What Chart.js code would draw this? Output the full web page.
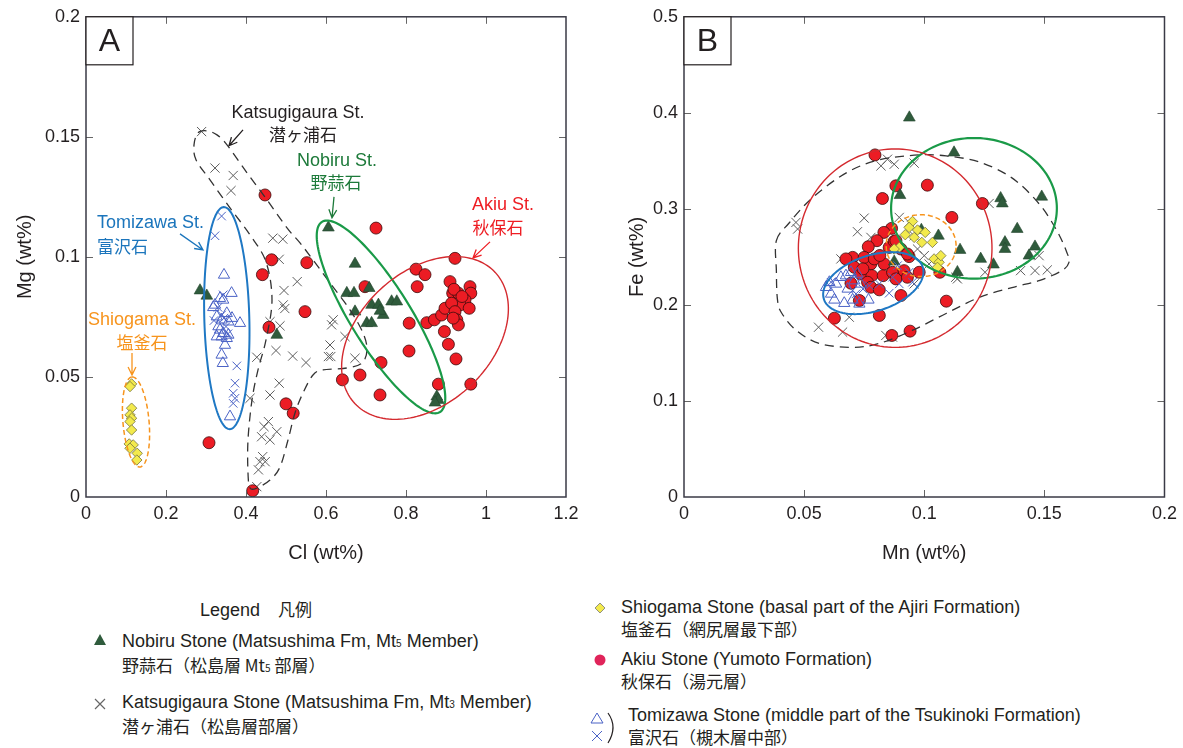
<!DOCTYPE html>
<html>
<head>
<meta charset="utf-8">
<title>Mg-Cl and Fe-Mn</title>
<script src="https://cdn.jsdelivr.net/npm/chart.js@4.4.0/dist/chart.umd.min.js"></script>
<style>
body { margin: 0; background: #fff; font-family: "Liberation Sans", Arial, sans-serif; }
#wrap { position: relative; width: 1183px; height: 748px; overflow: hidden; background: #fff; }
canvas { position: absolute; top: 0; }
#chartA { left: 0; }
#chartB { left: 598px; }
.lg { position: absolute; font-size: 18px; line-height: 21px; color: #231f20; white-space: nowrap; }
.jp { font-family: "Noto Sans CJK JP", sans-serif; font-size: 17px; }
.mk { position: absolute; }
small { font-size: 10px; }
</style>
</head>
<body>
<div id="wrap">
  <canvas id="chartA" width="590" height="570"></canvas>
  <canvas id="chartB" width="585" height="570"></canvas>

  <div class="lg" style="left:200px;top:598px;">Legend　<span class="jp">凡例</span></div>

  <svg class="mk" style="left:93px;top:633px;" width="14" height="14"><polygon points="7,1 13,12 1,12" fill="#2f5b3c"/></svg>
  <div class="lg" style="left:122px;top:631px;">Nobiru Stone (Matsushima Fm, Mt<small>5</small> Member)<br><span class="jp">野蒜石（松島層 Mt<small>5</small> 部層）</span></div>

  <svg class="mk" style="left:93px;top:697px;" width="14" height="14"><path d="M2,2 L12,12 M12,2 L2,12" stroke="#666" stroke-width="1.2"/></svg>
  <div class="lg" style="left:122px;top:692px;">Katsugigaura Stone (Matsushima Fm, Mt<small>3</small> Member)<br><span class="jp">潜ヶ浦石（松島層部層）</span></div>

  <svg class="mk" style="left:593px;top:601px;" width="14" height="14"><polygon points="7,2 12,7 7,12 2,7" fill="#f3ea4c" stroke="#777" stroke-width="0.8"/></svg>
  <div class="lg" style="left:621px;top:597px;">Shiogama Stone (basal part of the Ajiri Formation)<br><span class="jp">塩釜石（網尻層最下部）</span></div>

  <svg class="mk" style="left:593px;top:653px;" width="14" height="14"><circle cx="7" cy="7" r="5.5" fill="#e0245a"/></svg>
  <div class="lg" style="left:621px;top:649px;">Akiu Stone (Yumoto Formation)<br><span class="jp">秋保石（湯元層）</span></div>

  <svg class="mk" style="left:589px;top:710px;" width="30" height="36">
    <polygon points="8,3 14,13 2,13" fill="none" stroke="#4b63c6" stroke-width="1"/>
    <path d="M3,21 L13,31 M13,21 L3,31" stroke="#4b63c6" stroke-width="1"/>
    <path d="M19,3 Q29,17 19,33" fill="none" stroke="#231f20" stroke-width="1.2"/>
  </svg>
  <div class="lg" style="left:628px;top:705px;">Tomizawa Stone (middle part of the Tsukinoki Formation)<br><span class="jp">富沢石（槻木層中部）</span></div>
</div>

<script>
// ---------- panel A : Mg vs Cl ----------
const clTicks = [0, 0.2, 0.4, 0.6, 0.8, 1, 1.2];
const clTickLabels = ['0', '0.2', '0.4', '0.6', '0.8', '1', '1.2'];
const mgTicks = [0, 0.05, 0.1, 0.15, 0.2];
const mgTickLabels = ['0', '0.05', '0.1', '0.15', '0.2'];

const clNobiru = [0.606,0.285,0.302,0.477,0.6725,0.652,0.67,0.708,0.6725,0.714,0.731,0.743,0.702,0.714,0.764,0.777,0.877,0.881,0.8725,0.735];
const mgNobiru = [0.1122,0.086,0.0838,0.0675,0.0971,0.0849,0.0849,0.087,0.0772,0.080,0.080,0.0758,0.0724,0.0724,0.0814,0.0814,0.0418,0.0404,0.0393,0.0775];

const clKatsu = [0.289,0.3225,0.368,0.3625,0.467,0.492,0.483,0.528,0.495,0.493,0.497,0.46,0.485,0.618,0.614,0.6475,0.61,0.606,0.612,0.6725,0.427,0.475,0.5167,0.55,0.483,0.46,0.41,0.456,0.445,0.477,0.439,0.46,0.4417,0.435,0.448,0.431,0.427];
const mgKatsu = [0.1522,0.137,0.1339,0.1276,0.1078,0.1074,0.099,0.0897,0.086,0.080,0.0785,0.073,0.0713,0.0738,0.0717,0.0668,0.0633,0.0585,0.0585,0.0578,0.0582,0.061,0.0587,0.056,0.0474,0.0425,0.0411,0.0314,0.0293,0.0272,0.0251,0.0238,0.0168,0.0147,0.0147,0.0113,0.0043];

const clShiogama = [0.114,0.110,0.114,0.110,0.114,0.110,0.114,0.108,0.118,0.110,0.128,0.127];
const mgShiogama = [0.0471,0.0460,0.0370,0.0342,0.0328,0.0314,0.0279,0.0221,0.0217,0.0203,0.0182,0.0154];

const clAkiu = [0.4475,0.725,0.9225,0.464,0.552,0.441,0.5475,0.4575,0.6975,0.825,0.8475,0.828,0.808,0.852,0.871,0.889,0.8975,0.91,0.9167,0.931,0.96,0.962,0.9475,0.935,0.914,0.958,0.9225,0.927,0.931,0.918,0.896,0.906,0.925,0.8075,0.7375,0.685,0.641,0.735,0.881,0.962,0.5,0.518,0.3075,0.4167,0.92,0.94];
const mgAkiu = [0.1258,0.112,0.0994,0.0988,0.0976,0.0926,0.0772,0.0707,0.0876,0.0949,0.0926,0.0876,0.0724,0.0726,0.0738,0.0758,0.0786,0.0897,0.0849,0.0849,0.0876,0.0849,0.0821,0.080,0.0807,0.0786,0.0772,0.0738,0.0717,0.0745,0.0689,0.0636,0.0575,0.0608,0.056,0.0508,0.0488,0.0425,0.047,0.047,0.0388,0.0349,0.0226,0.0026,0.0865,0.0835];

const clTomiTri = [0.345,0.364,0.335,0.343,0.3225,0.352,0.385,0.327,0.339,0.356,0.331,0.335,0.343,0.356,0.327,0.339,0.352,0.3475,0.339,0.342,0.36,0.318,0.365];
const mgTomiTri = [0.0925,0.0849,0.0828,0.0821,0.080,0.0765,0.0724,0.0751,0.0738,0.0730,0.0710,0.0696,0.0682,0.0675,0.0668,0.0668,0.0661,0.0633,0.0592,0.0557,0.0335,0.0790,0.0745];
const clTomiX = [0.339,0.3225,0.343,0.339,0.33,0.35,0.32,0.345,0.355,0.377,0.3725,0.368,0.3725,0.368];
const mgTomiX = [0.117,0.1088,0.0842,0.0758,0.079,0.071,0.0735,0.0745,0.068,0.0546,0.0474,0.0432,0.0411,0.039];

// dashed Katsugigaura field, panel A (Cl, Mg)
const katsuFieldCl = [0.28,0.3025,0.3275,0.3525,0.4025,0.4525,0.5025,0.535,0.5675,0.6175,0.66,0.6925,0.7025,0.69,0.6525,0.5925,0.5675,0.5425,0.5225,0.505,0.485,0.46,0.4275,0.41,0.405,0.405,0.415,0.43,0.45,0.465,0.45,0.41,0.36,0.31,0.275,0.27];
const katsuFieldMg = [0.15167,0.1525,0.15083,0.14667,0.135,0.12375,0.11208,0.10583,0.09875,0.0875,0.07792,0.06833,0.06125,0.05583,0.05375,0.05292,0.05083,0.04333,0.035,0.02375,0.0125,0.00708,0.00375,0.00375,0.01,0.02375,0.04042,0.05292,0.06542,0.08208,0.09792,0.10917,0.12042,0.13208,0.14042,0.14667];

// ---------- panel B : Fe vs Mn ----------
const mnTicks = [0, 0.05, 0.1, 0.15, 0.2];
const mnTickLabels = ['0', '0.05', '0.1', '0.15', '0.2'];
const feTicks = [0, 0.1, 0.2, 0.3, 0.4, 0.5];
const feTickLabels = ['0', '0.1', '0.2', '0.3', '0.4', '0.5'];

const mnNobiru = [0.0938,0.1124,0.1489,0.1318,0.1325,0.0899,0.1387,0.0988,0.1059,0.1149,0.1336,0.1336,0.1461,0.1436,0.1235,0.1288,0.1138,0.0875];
const feNobiru = [0.395,0.3586,0.3126,0.311,0.3056,0.3143,0.279,0.278,0.272,0.2572,0.2651,0.2582,0.2606,0.2513,0.2479,0.242,0.234,0.245];

const mnKatsu = [0.082,0.0847,0.0875,0.0958,0.127,0.075,0.0722,0.0466,0.0473,0.0896,0.0937,0.0778,0.0972,0.0653,0.0958,0.1253,0.1138,0.1401,0.1461,0.1512,0.1478,0.056,0.066,0.0688,0.084,0.0868,0.1,0.0958,0.0868,0.1131,0.102];
const feKatsu = [0.3448,0.3517,0.3465,0.3476,0.3056,0.2904,0.2762,0.2859,0.279,0.2911,0.2859,0.2703,0.2582,0.2479,0.2219,0.234,0.2271,0.2357,0.2357,0.2364,0.2513,0.1768,0.1717,0.1872,0.1682,0.1665,0.2513,0.272,0.2357,0.2288,0.2427];

const mnShiogama = [0.0951,0.0972,0.0921,0.0958,0.099,0.1034,0.1041,0.1062,0.1069,0.0896,0.0875,0.1055,0.0937,0.1004];
const feShiogama = [0.2869,0.278,0.2731,0.2703,0.2651,0.2651,0.2479,0.2444,0.2513,0.2599,0.2582,0.2391,0.2807,0.2755];

const mnAkiu = [0.0795,0.0882,0.1013,0.0826,0.1242,0.1115,0.0864,0.0832,0.0803,0.0854,0.0875,0.0767,0.0903,0.0702,0.0674,0.0937,0.0979,0.1065,0.0709,0.0736,0.0778,0.0782,0.0829,0.0833,0.0868,0.0882,0.0916,0.093,0.0764,0.0695,0.0778,0.0813,0.0903,0.073,0.0626,0.0813,0.0865,0.0941,0.1092,0.075,0.0792,0.0882,0.093,0.0815,0.0745];
const feAkiu = [0.3562,0.324,0.3247,0.3108,0.3056,0.2911,0.2797,0.2755,0.2669,0.2599,0.2662,0.2606,0.2582,0.2495,0.2479,0.2503,0.234,0.234,0.2392,0.2323,0.2427,0.2305,0.2305,0.2427,0.234,0.2271,0.2357,0.2288,0.2236,0.2226,0.2184,0.2157,0.2098,0.2046,0.1862,0.189,0.1682,0.1727,0.2039,0.2495,0.2479,0.2669,0.253,0.2515,0.2375];

const mnTomiTri = [0.0605,0.0591,0.0633,0.0612,0.0626,0.0667,0.0702,0.073,0.0768,0.0674,0.0709,0.0736,0.0695,0.0722,0.0653,0.0681];
const feTomiTri = [0.2236,0.2184,0.2219,0.2115,0.2053,0.2018,0.2053,0.2011,0.2053,0.2305,0.2253,0.2219,0.234,0.2323,0.2288,0.2167];
const mnTomiX = [0.0868,0.0896,0.0854,0.0813,0.0771,0.0745,0.0702,0.0612,0.0716,0.0951,0.0937,0.0889];
const feTomiX = [0.2288,0.2219,0.2122,0.2219,0.2201,0.2165,0.215,0.2236,0.2115,0.2236,0.234,0.2409];

// dashed Katsugigaura field, panel B (Mn, Fe)
const katsuFieldMn = [0.03845,0.04385,0.0534,0.06754,0.08126,0.09788,0.1091,0.1228,0.1365,0.1478,0.1552,0.1594,0.1602,0.1573,0.1478,0.1365,0.1228,0.1091,0.09497,0.08126,0.07003,0.05632,0.04676,0.04052,0.03886,0.03845];
const katsuFieldFe = [0.2669,0.2856,0.3115,0.3375,0.351,0.3562,0.3551,0.3489,0.3323,0.3053,0.2773,0.2544,0.244,0.2357,0.2253,0.2181,0.2077,0.1911,0.1734,0.1599,0.1558,0.1599,0.1734,0.1921,0.2066,0.2357];

const INK = '#231f20';
const C_GREEN = '#1a9a48', C_RED = '#d42a2f', C_BLUE = '#1f78c4', C_ORANGE = '#f7941d';
Chart.defaults.font.family = '"Liberation Sans", Arial, sans-serif';

function pts(xs, ys) {
    return xs.map((x, i) => ({ x: x, y: ys[i] }));
}

function makeDatasets(s) {
    return [
        { label: 'Tomizawa x', data: pts(s.tomiX[0], s.tomiX[1]), pointStyle: 'crossRot', radius: 6, borderColor: '#4b63c6', borderWidth: 1 },
        { label: 'Tomizawa tri', data: pts(s.tomiTri[0], s.tomiTri[1]), pointStyle: 'triangle', radius: 6.5, backgroundColor: 'rgba(255,255,255,0)', borderColor: '#4b63c6', borderWidth: 1 },
        { label: 'Shiogama', data: pts(s.shio[0], s.shio[1]), pointStyle: 'rectRot', radius: 5.2, backgroundColor: '#f3ea4c', borderColor: '#75733e', borderWidth: 0.8 },
        { label: 'Nobiru', data: pts(s.nobiru[0], s.nobiru[1]), pointStyle: 'triangle', radius: 6.8, backgroundColor: '#2f5b3c', borderColor: '#24452e', borderWidth: 0.6 },
        { label: 'Akiu', data: pts(s.akiu[0], s.akiu[1]), pointStyle: 'circle', radius: 6, backgroundColor: '#ec1c24', borderColor: '#3b0b0b', borderWidth: 0.8 },
        { label: 'Katsugigaura', data: pts(s.katsu[0], s.katsu[1]), pointStyle: 'crossRot', radius: 6.5, borderColor: '#5c5c5c', borderWidth: 1 }
    ];
}

// ellipse given in data units: centre + two conjugate semi-axes
function ellipsePath(ctx, xs, ys, e) {
    ctx.beginPath();
    for (let i = 0; i <= 160; i++) {
        const t = i / 160 * Math.PI * 2;
        const dx = e.c[0] + e.u[0] * Math.cos(t) + e.v[0] * Math.sin(t);
        const dy = e.c[1] + e.u[1] * Math.cos(t) + e.v[1] * Math.sin(t);
        const px = xs.getPixelForValue(dx), py = ys.getPixelForValue(dy);
        if (i === 0) ctx.moveTo(px, py); else ctx.lineTo(px, py);
    }
    ctx.closePath();
}

function smoothLoop(ctx, p) {
    const n = p.length;
    ctx.beginPath();
    ctx.moveTo(p[0][0], p[0][1]);
    for (let i = 0; i < n; i++) {
        const p0 = p[(i - 1 + n) % n], p1 = p[i], p2 = p[(i + 1) % n], p3 = p[(i + 2) % n];
        ctx.bezierCurveTo(p1[0] + (p2[0] - p0[0]) / 6, p1[1] + (p2[1] - p0[1]) / 6,
                          p2[0] - (p3[0] - p1[0]) / 6, p2[1] - (p3[1] - p1[1]) / 6, p2[0], p2[1]);
    }
    ctx.closePath();
}

const overlayPlugin = {
    id: 'overlay',
    afterDatasetsDraw(chart) {
        const ov = chart.options.plugins.overlay;
        const ctx = chart.ctx, xs = chart.scales.x, ys = chart.scales.y;
        ctx.save();
        // field outline
        const loop = ov.field[0].map((v, i) => [xs.getPixelForValue(v), ys.getPixelForValue(ov.field[1][i])]);
        ctx.setLineDash([9, 6]);
        ctx.strokeStyle = '#333';
        ctx.lineWidth = 1.3;
        smoothLoop(ctx, loop);
        ctx.stroke();
        // ellipses
        ov.ellipses.forEach(e => {
            ctx.setLineDash(e.dash || []);
            ctx.strokeStyle = e.color;
            ctx.lineWidth = e.width;
            ellipsePath(ctx, xs, ys, e);
            ctx.stroke();
        });
        ctx.setLineDash([]);
        // labels and arrows
        (ov.notes || []).forEach(n => {
            ctx.fillStyle = n.color;
            ctx.font = n.jp ? '17px "Noto Sans CJK JP", sans-serif' : '18px "Liberation Sans", Arial, sans-serif';
            ctx.textAlign = n.align || 'center';
            ctx.textBaseline = 'middle';
            ctx.fillText(n.text, xs.getPixelForValue(n.x), ys.getPixelForValue(n.y));
        });
        (ov.arrows || []).forEach(r => {
            const x1 = xs.getPixelForValue(r.from[0]), y1 = ys.getPixelForValue(r.from[1]);
            const x2 = xs.getPixelForValue(r.to[0]), y2 = ys.getPixelForValue(r.to[1]);
            const ang = Math.atan2(y2 - y1, x2 - x1);
            ctx.strokeStyle = r.color;
            ctx.lineWidth = 1.3;
            ctx.beginPath();
            ctx.moveTo(x1, y1); ctx.lineTo(x2, y2);
            ctx.moveTo(x2 - 9 * Math.cos(ang - 0.45), y2 - 9 * Math.sin(ang - 0.45));
            ctx.lineTo(x2, y2);
            ctx.lineTo(x2 - 9 * Math.cos(ang + 0.45), y2 - 9 * Math.sin(ang + 0.45));
            ctx.stroke();
        });
        ctx.restore();
    },
    afterDraw(chart) {
        const ov = chart.options.plugins.overlay;
        const ctx = chart.ctx, xs = chart.scales.x, ys = chart.scales.y, a = chart.chartArea;
        ctx.save();
        // inside tick marks on all four sides
        ctx.strokeStyle = '#666';
        ctx.lineWidth = 1;
        ctx.beginPath();
        ov.xTicks.slice(1, -1).forEach(v => {
            const px = Math.round(xs.getPixelForValue(v)) + 0.5;
            ctx.moveTo(px, a.bottom); ctx.lineTo(px, a.bottom - 7);
            ctx.moveTo(px, a.top); ctx.lineTo(px, a.top + 7);
        });
        ov.yTicks.slice(1, -1).forEach(v => {
            const py = Math.round(ys.getPixelForValue(v)) + 0.5;
            ctx.moveTo(a.left, py); ctx.lineTo(a.left + 7, py);
            ctx.moveTo(a.right, py); ctx.lineTo(a.right - 7, py);
        });
        ctx.stroke();
        // frame
        ctx.strokeStyle = '#3a3a46';
        ctx.lineWidth = 1.5;
        ctx.strokeRect(a.left, a.top, a.right - a.left, a.bottom - a.top);
        // panel letter box
        ctx.fillStyle = '#fff';
        ctx.fillRect(a.left, a.top, 47, 48);
        ctx.strokeStyle = '#231f20';
        ctx.lineWidth = 1.2;
        ctx.strokeRect(a.left, a.top, 47, 48);
        ctx.fillStyle = INK;
        ctx.font = '32px "Liberation Sans", Arial, sans-serif';
        ctx.textAlign = 'center';
        ctx.textBaseline = 'middle';
        ctx.fillText(ov.letter, a.left + 23.5, a.top + 25);
        ctx.restore();
    }
};

function makeChart(id, cfg) {
    new Chart(document.getElementById(id), {
        type: 'scatter',
        data: { datasets: makeDatasets(cfg.series) },
        options: {
            responsive: false,
            animation: false,
            events: [],
            layout: { padding: { left: 0, top: 16, right: cfg.padRight, bottom: 0 } },
            plugins: {
                legend: { display: false },
                tooltip: { enabled: false },
                overlay: cfg.overlay
            },
            scales: {
                x: {
                    type: 'linear', min: cfg.xTicks[0], max: cfg.xTicks[cfg.xTicks.length - 1],
                    grid: { display: false, drawTicks: false },
                    border: { display: false },
                    afterBuildTicks: s => { s.ticks = cfg.xTicks.map(v => ({ value: v })); },
                    afterFit: s => { s.height = 73; },
                    ticks: { autoSkip: false, maxRotation: 0, padding: 6, color: INK, font: { size: 18 },
                             callback: (v, i) => cfg.xLabels[i] },
                    title: { display: true, text: cfg.xTitle, color: INK, font: { size: 20 }, padding: { top: 0, bottom: 5 } }
                },
                y: {
                    type: 'linear', min: cfg.yTicks[0], max: cfg.yTicks[cfg.yTicks.length - 1],
                    grid: { display: false, drawTicks: false },
                    border: { display: false },
                    afterBuildTicks: s => { s.ticks = cfg.yTicks.map(v => ({ value: v })); },
                    afterFit: s => { s.width = 86; },
                    ticks: { autoSkip: false, padding: 6, color: INK, font: { size: 18 },
                             callback: (v, i) => cfg.yLabels[i] },
                    title: { display: true, text: cfg.yTitle, color: INK, font: { size: 20 }, padding: { top: cfg.yTitlePad, bottom: 0 } }
                }
            }
        },
        plugins: [overlayPlugin]
    });
}

makeChart('chartA', {
    padRight: 24,
    xTicks: clTicks, xLabels: clTickLabels, yTicks: mgTicks, yLabels: mgTickLabels,
    xTitle: 'Cl (wt%)', yTitle: 'Mg (wt%)', yTitlePad: 13,
    series: {
        nobiru: [clNobiru, mgNobiru], katsu: [clKatsu, mgKatsu], shio: [clShiogama, mgShiogama],
        akiu: [clAkiu, mgAkiu], tomiTri: [clTomiTri, mgTomiTri], tomiX: [clTomiX, mgTomiX]
    },
    overlay: {
        letter: 'A', xTicks: clTicks, yTicks: mgTicks,
        field: [katsuFieldCl, katsuFieldMg],
        ellipses: [
            { c: [0.352, 0.0745], u: [-0.0075, 0.04625], v: [0.05625, 0.00025], color: C_BLUE, width: 2 },
            { c: [0.125, 0.03125], u: [-0.01, 0.01875], v: [0.0325, 0.0005], color: C_ORANGE, width: 1.5, dash: [5, 3] },
            { c: [0.7375, 0.075], u: [0.1475, -0.0396], v: [-0.0637, -0.0066], color: C_GREEN, width: 2.2 },
            { c: [0.8475, 0.06625], u: [0.1755, 0.0273], v: [0.1125, -0.0201], color: C_RED, width: 1.4 }
        ],
        notes: [
            { x: 0.53, y: 0.16, text: 'Katsugigaura St.', color: INK },
            { x: 0.5425, y: 0.1508, text: '潜ヶ浦石', color: INK, jp: true },
            { x: 0.6275, y: 0.14, text: 'Nobiru St.', color: '#1d7a3a' },
            { x: 0.625, y: 0.1308, text: '野蒜石', color: '#1d7a3a', jp: true },
            { x: 1.0425, y: 0.1217, text: 'Akiu St.', color: '#ee1d23' },
            { x: 1.03, y: 0.1121, text: '秋保石', color: '#ee1d23', jp: true },
            { x: 0.0275, y: 0.1142, text: 'Tomizawa St.', color: '#1b75bc', align: 'left' },
            { x: 0.0275, y: 0.1042, text: '富沢石', color: '#1b75bc', align: 'left', jp: true },
            { x: 0.14, y: 0.07375, text: 'Shiogama St.', color: C_ORANGE },
            { x: 0.14, y: 0.0642, text: '塩釜石', color: C_ORANGE, jp: true }
        ],
        arrows: [
            { from: [0.3925, 0.1529], to: [0.3575, 0.1463], color: INK },
            { from: [0.62, 0.125], to: [0.615, 0.1163], color: '#1d7a3a' },
            { from: [1.01, 0.10625], to: [0.9675, 0.0996], color: '#ee1d23' },
            { from: [0.235, 0.1096], to: [0.2925, 0.1029], color: '#1b75bc' },
            { from: [0.115, 0.06], to: [0.115, 0.0508], color: C_ORANGE }
        ]
    }
});

makeChart('chartB', {
    padRight: 18,
    xTicks: mnTicks, xLabels: mnTickLabels, yTicks: feTicks, yLabels: feTickLabels,
    xTitle: 'Mn (wt%)', yTitle: 'Fe (wt%)', yTitlePad: 27,
    series: {
        nobiru: [mnNobiru, feNobiru], katsu: [mnKatsu, feKatsu], shio: [mnShiogama, feShiogama],
        akiu: [mnAkiu, feAkiu], tomiTri: [mnTomiTri, feTomiTri], tomiX: [mnTomiX, feTomiX]
    },
    overlay: {
        letter: 'B', xTicks: mnTicks, yTicks: feTicks,
        field: [katsuFieldMn, katsuFieldFe],
        ellipses: [
            { c: [0.1207, 0.3006], u: [0.0345, 0], v: [0, 0.0732], color: C_GREEN, width: 2.2 },
            { c: [0.0879, 0.2591], u: [0.0403, 0], v: [0, 0.1033], color: C_RED, width: 1.4 },
            { c: [0.0987, 0.2617], u: [0.01455, 0], v: [0, 0.0322], color: C_ORANGE, width: 1.5, dash: [5, 3] },
            { c: [0.0788, 0.2227], u: [0.02057, 0.01672], v: [0.003595, -0.02762], color: C_BLUE, width: 2 }
        ]
    }
});
</script>
</body>
</html>
